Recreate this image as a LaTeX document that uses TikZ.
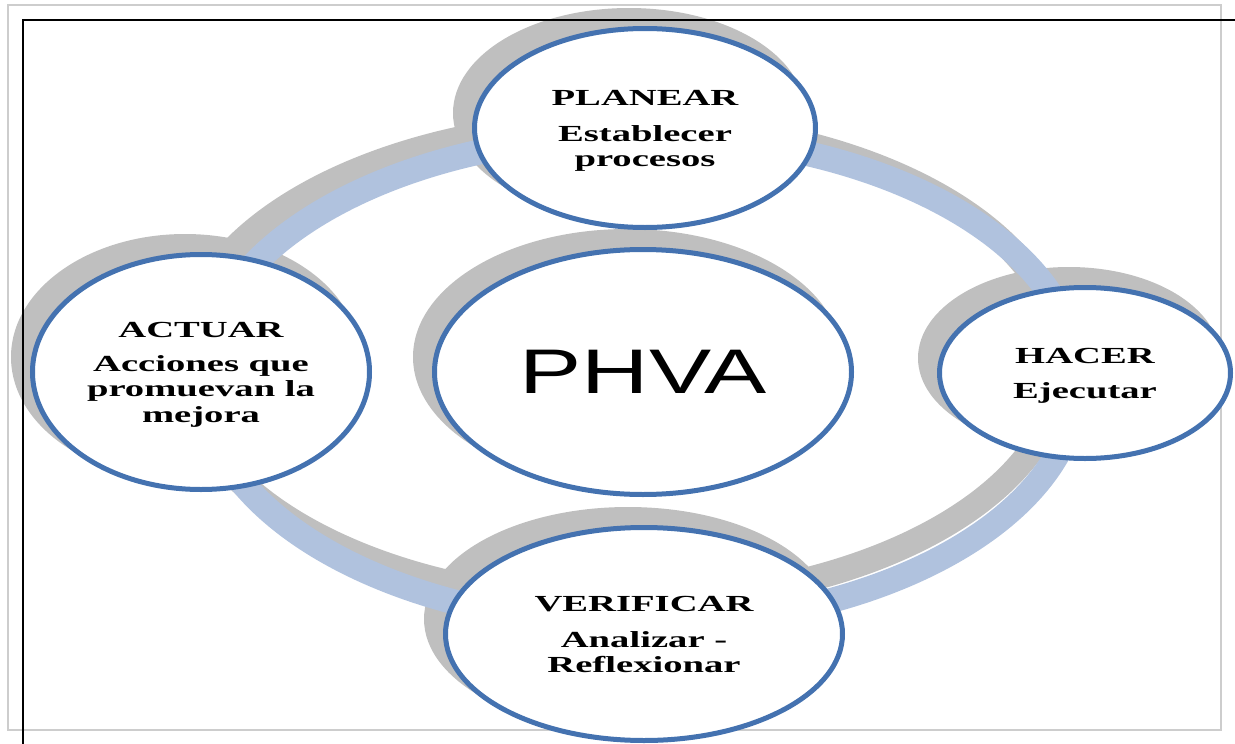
\documentclass[tikz,border=0pt]{standalone}
\usepackage{fontspec}
\setmainfont{Liberation Serif}
\newfontfamily\phvafont{Liberation Sans}
\usepackage{graphicx}
\usetikzlibrary{shapes.geometric}
\definecolor{cycblue}{HTML}{4472B0}
\definecolor{ringblue}{HTML}{B0C2DE}
\definecolor{shadowgray}{HTML}{BFBFBF}
\definecolor{framegray}{HTML}{CDCDCD}
\pgfdeclarelayer{back}
\pgfdeclarelayer{mid}
\pgfsetlayers{back,mid,main}
\newcommand{\cyclabel}[1]{\raisebox{-3pt}[\height][\depth]{\scalebox{1.68}[1]{\begin{tabular}{@{}c@{}}#1\end{tabular}}}}
\begin{document}
\begin{tikzpicture}[x=1pt,y=-1pt,
  cycnode/.style={ellipse, draw=cycblue, line width=5pt, fill=white, inner sep=0pt,
    align=center, font=\fontsize{23}{25.5}\selectfont\bfseries},
  ringline/.style={line width=25pt},
]
\useasboundingbox (0,0) rectangle (1235,744);
% circles
\node[cycnode, minimum width=341pt, minimum height=199pt] (plan) at (645,128)
  {\cyclabel{PLANEAR\\[10pt]Establecer\\procesos}};
\node[cycnode, minimum width=417pt, minimum height=245pt, font=\phvafont\fontsize{63}{70}\selectfont] (phva) at (643,372)
  {\scalebox{1.48}[1]{PHVA}};
\node[cycnode, minimum width=291pt, minimum height=171pt] (hacer) at (1085,373)
  {\cyclabel{HACER\\[10pt]Ejecutar}};
\node[cycnode, minimum width=337pt, minimum height=235pt] (actuar) at (201,372)
  {\cyclabel{ACTUAR\\[8pt]Acciones que\\promuevan la\\mejora}};
\node[cycnode, minimum width=397pt, minimum height=213pt] (verif) at (644,634)
  {\cyclabel{VERIFICAR\\[10pt]Analizar -\\Reflexionar}};
\coordinate (ringc) at (640,380);
\coordinate (ringsh) at (622,362);
% shadows
\begin{pgfonlayer}{back}
  \draw[shadowgray, ringline] (ringsh) ellipse [x radius=440pt, y radius=240pt];
  \foreach \n/\rx/\ry in {plan/176/105, phva/214/128, hacer/151/91, actuar/174/123, verif/204/112}
    \fill[shadowgray] ([shift={(-16,-15)}]\n.center) ellipse [x radius=\rx pt, y radius=\ry pt];
\end{pgfonlayer}
% ring and frames
\begin{pgfonlayer}{mid}
  \draw[ringblue, ringline] (ringc) ellipse [x radius=438pt, y radius=245pt];
  \draw[framegray, line width=2.5pt] (8,5) rectangle (1221,730);
  \draw[black, line width=2.5pt] (1235,20) -- (23,20) -- (23,744);
\end{pgfonlayer}
\end{tikzpicture}
\end{document}
